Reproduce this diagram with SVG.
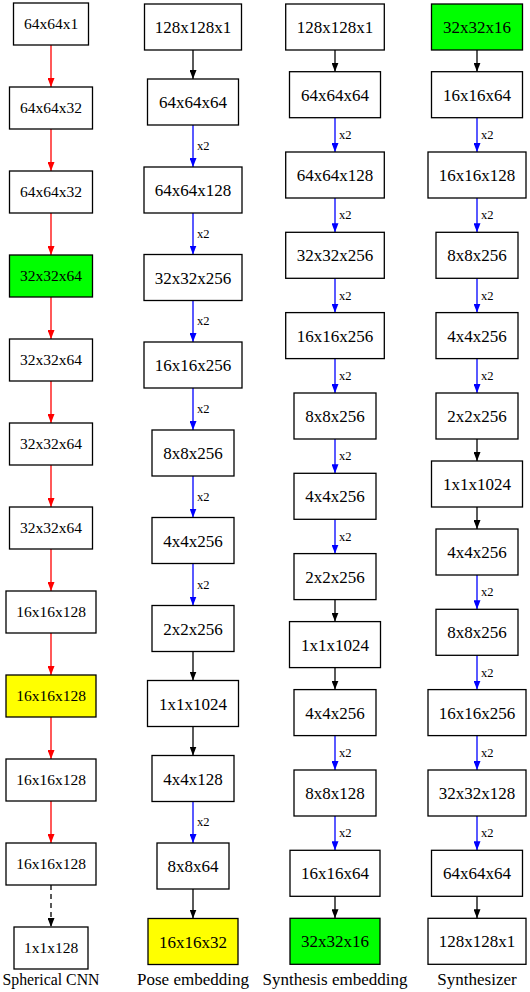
<svg xmlns="http://www.w3.org/2000/svg" width="530" height="992" viewBox="0 0 530 992">
<style>
rect{fill:#fff;stroke:#000;stroke-width:1.3}
rect.g{fill:#00ff00}
rect.y{fill:#ffff00}
text{font-family:"Liberation Serif","Times New Roman",serif;fill:#000;text-anchor:middle}
.c1 text{font-size:15.5px}
.n text{font-size:17px}
.lab{font-size:12.5px;text-anchor:start}
.cap{font-size:17.5px}
.c1 text.cap{font-size:15.8px}
line{stroke-width:1.3}
.r{stroke:#ff0000}
.b{stroke:#0000ff}
.k{stroke:#000}
.d{stroke:#000;stroke-dasharray:5,4}
</style>
<defs>
<marker id="ar" markerUnits="userSpaceOnUse" markerWidth="9" markerHeight="7" refX="9" refY="3.5" orient="auto"><path d="M0,0L9,3.5L0,7z" fill="#ff0000"/></marker>
<marker id="ab" markerUnits="userSpaceOnUse" markerWidth="9" markerHeight="7" refX="9" refY="3.5" orient="auto"><path d="M0,0L9,3.5L0,7z" fill="#0000ff"/></marker>
<marker id="ak" markerUnits="userSpaceOnUse" markerWidth="9" markerHeight="7" refX="9" refY="3.5" orient="auto"><path d="M0,0L9,3.5L0,7z" fill="#000"/></marker>
</defs>
<rect x="0" y="0" width="530" height="992" style="fill:#fff;stroke:none"/>

<g id="connectors">
<g id="c1-edges">
<line class="r" x1="51" y1="45" x2="51" y2="87" marker-end="url(#ar)"/>
<line class="r" x1="51" y1="129" x2="51" y2="171" marker-end="url(#ar)"/>
<line class="r" x1="51" y1="213" x2="51" y2="255" marker-end="url(#ar)"/>
<line class="r" x1="51" y1="297" x2="51" y2="339" marker-end="url(#ar)"/>
<line class="r" x1="51" y1="381" x2="51" y2="423" marker-end="url(#ar)"/>
<line class="r" x1="51" y1="465" x2="51" y2="507" marker-end="url(#ar)"/>
<line class="r" x1="51" y1="549" x2="51" y2="591" marker-end="url(#ar)"/>
<line class="r" x1="51" y1="633" x2="51" y2="675" marker-end="url(#ar)"/>
<line class="r" x1="51" y1="717" x2="51" y2="759" marker-end="url(#ar)"/>
<line class="r" x1="51" y1="801" x2="51" y2="843" marker-end="url(#ar)"/>
<line class="d" x1="51" y1="885" x2="51" y2="927" marker-end="url(#ak)"/>
</g>
<g id="c2-edges">
<line class="k" x1="193" y1="50" x2="193" y2="79" marker-end="url(#ak)"/>
<line class="b" x1="193" y1="125" x2="193" y2="167" marker-end="url(#ab)"/>
<text class="lab" x="197" y="150">x2</text>
<line class="b" x1="193" y1="213" x2="193" y2="254.5" marker-end="url(#ab)"/>
<text class="lab" x="197" y="238">x2</text>
<line class="b" x1="193" y1="300.5" x2="193" y2="342" marker-end="url(#ab)"/>
<text class="lab" x="197" y="325.3">x2</text>
<line class="b" x1="193" y1="388" x2="193" y2="430" marker-end="url(#ab)"/>
<text class="lab" x="197" y="413">x2</text>
<line class="b" x1="193" y1="476" x2="193" y2="517.5" marker-end="url(#ab)"/>
<text class="lab" x="197" y="501">x2</text>
<line class="b" x1="193" y1="563.5" x2="193" y2="605.5" marker-end="url(#ab)"/>
<text class="lab" x="197" y="588.6">x2</text>
<line class="k" x1="193" y1="651.5" x2="193" y2="680.5" marker-end="url(#ak)"/>
<line class="k" x1="193" y1="726.5" x2="193" y2="755.5" marker-end="url(#ak)"/>
<line class="b" x1="193" y1="801.5" x2="193" y2="843" marker-end="url(#ab)"/>
<text class="lab" x="197" y="826.3">x2</text>
<line class="k" x1="193" y1="889" x2="193" y2="918.5" marker-end="url(#ak)"/>
</g>
<g id="c3-edges">
<line class="k" x1="335" y1="50" x2="335" y2="71.7" marker-end="url(#ak)"/>
<line class="b" x1="335" y1="117.7" x2="335" y2="152" marker-end="url(#ab)"/>
<text class="lab" x="339" y="139">x2</text>
<line class="b" x1="335" y1="198" x2="335" y2="232.3" marker-end="url(#ab)"/>
<text class="lab" x="339" y="219.2">x2</text>
<line class="b" x1="335" y1="278.3" x2="335" y2="312.6" marker-end="url(#ab)"/>
<text class="lab" x="339" y="299.5">x2</text>
<line class="b" x1="335" y1="358.6" x2="335" y2="393" marker-end="url(#ab)"/>
<text class="lab" x="339" y="379.9">x2</text>
<line class="b" x1="335" y1="439" x2="335" y2="473.3" marker-end="url(#ab)"/>
<text class="lab" x="339" y="460.2">x2</text>
<line class="b" x1="335" y1="519.3" x2="335" y2="553.6" marker-end="url(#ab)"/>
<text class="lab" x="339" y="540.5">x2</text>
<line class="k" x1="335" y1="599.6" x2="335" y2="621.6" marker-end="url(#ak)"/>
<line class="k" x1="335" y1="667.6" x2="335" y2="689.6" marker-end="url(#ak)"/>
<line class="b" x1="335" y1="735.6" x2="335" y2="770" marker-end="url(#ab)"/>
<text class="lab" x="339" y="756.9">x2</text>
<line class="b" x1="335" y1="816" x2="335" y2="850.3" marker-end="url(#ab)"/>
<text class="lab" x="339" y="837.2">x2</text>
<line class="k" x1="335" y1="896.3" x2="335" y2="918.3" marker-end="url(#ak)"/>
</g>
<g id="c4-edges">
<line class="k" x1="477" y1="50" x2="477" y2="71.7" marker-end="url(#ak)"/>
<line class="b" x1="477" y1="117.7" x2="477" y2="152" marker-end="url(#ab)"/>
<text class="lab" x="481" y="139">x2</text>
<line class="b" x1="477" y1="198" x2="477" y2="232.3" marker-end="url(#ab)"/>
<text class="lab" x="481" y="219.2">x2</text>
<line class="b" x1="477" y1="278.3" x2="477" y2="312.6" marker-end="url(#ab)"/>
<text class="lab" x="481" y="299.5">x2</text>
<line class="b" x1="477" y1="358.6" x2="477" y2="393" marker-end="url(#ab)"/>
<text class="lab" x="481" y="379.9">x2</text>
<line class="k" x1="477" y1="439" x2="477" y2="461" marker-end="url(#ak)"/>
<line class="k" x1="477" y1="507" x2="477" y2="529" marker-end="url(#ak)"/>
<line class="b" x1="477" y1="575" x2="477" y2="609.3" marker-end="url(#ab)"/>
<text class="lab" x="481" y="596.2">x2</text>
<line class="b" x1="477" y1="655.3" x2="477" y2="689.6" marker-end="url(#ab)"/>
<text class="lab" x="481" y="676.5">x2</text>
<line class="b" x1="477" y1="735.6" x2="477" y2="770" marker-end="url(#ab)"/>
<text class="lab" x="481" y="756.9">x2</text>
<line class="b" x1="477" y1="816" x2="477" y2="850.3" marker-end="url(#ab)"/>
<text class="lab" x="481" y="837.2">x2</text>
<line class="k" x1="477" y1="896.3" x2="477" y2="918.3" marker-end="url(#ak)"/>
</g>
</g>

<g class="c1">
<g id="s1"><rect x="13.5" y="3" width="75" height="42"/><text x="51" y="29">64x64x1</text></g>
<g id="s2"><rect x="9.5" y="87" width="83" height="42"/><text x="51" y="113">64x64x32</text></g>
<g id="s3"><rect x="9.5" y="171" width="83" height="42"/><text x="51" y="197">64x64x32</text></g>
<g id="s4"><rect class="g" x="9.5" y="255" width="83" height="42"/><text x="51" y="281">32x32x64</text></g>
<g id="s5"><rect x="9.5" y="339" width="83" height="42"/><text x="51" y="365">32x32x64</text></g>
<g id="s6"><rect x="9.5" y="423" width="83" height="42"/><text x="51" y="449">32x32x64</text></g>
<g id="s7"><rect x="9.5" y="507" width="83" height="42"/><text x="51" y="533">32x32x64</text></g>
<g id="s8"><rect x="6" y="591" width="90" height="42"/><text x="51" y="617">16x16x128</text></g>
<g id="s9"><rect class="y" x="6" y="675" width="90" height="42"/><text x="51" y="701">16x16x128</text></g>
<g id="s10"><rect x="6" y="759" width="90" height="42"/><text x="51" y="785">16x16x128</text></g>
<g id="s11"><rect x="6" y="843" width="90" height="42"/><text x="51" y="869">16x16x128</text></g>
<g id="s12"><rect x="14" y="927" width="74" height="42"/><text x="51" y="953">1x1x128</text></g>
<text class="cap" x="51" y="985">Spherical CNN</text>
</g>

<g class="n">
<g id="p1"><rect x="144.5" y="4" width="97" height="46"/><text x="193" y="33">128x128x1</text></g>
<g id="p2"><rect x="147.5" y="79" width="91" height="46"/><text x="193" y="108">64x64x64</text></g>
<g id="p3"><rect x="144" y="167" width="98" height="46"/><text x="193" y="196">64x64x128</text></g>
<g id="p4"><rect x="144" y="254.5" width="98" height="46"/><text x="193" y="283.5">32x32x256</text></g>
<g id="p5"><rect x="144" y="342" width="98" height="46"/><text x="193" y="371">16x16x256</text></g>
<g id="p6"><rect x="152" y="430" width="82" height="46"/><text x="193" y="459">8x8x256</text></g>
<g id="p7"><rect x="152" y="517.5" width="82" height="46"/><text x="193" y="546.5">4x4x256</text></g>
<g id="p8"><rect x="152" y="605.5" width="82" height="46"/><text x="193" y="634.5">2x2x256</text></g>
<g id="p9"><rect x="147.5" y="680.5" width="91" height="46"/><text x="193" y="709.5">1x1x1024</text></g>
<g id="p10"><rect x="152" y="755.5" width="82" height="46"/><text x="193" y="784.5">4x4x128</text></g>
<g id="p11"><rect x="157" y="843" width="72" height="46"/><text x="193" y="872">8x8x64</text></g>
<g id="p12"><rect class="y" x="148" y="918.5" width="90" height="46"/><text x="193" y="947.5">16x16x32</text></g>
<text class="cap" x="193" y="985">Pose embedding</text>
</g>

<g class="n">
<g id="e1"><rect x="285.7" y="4" width="98.6" height="46"/><text x="335" y="33">128x128x1</text></g>
<g id="e2"><rect x="289.5" y="71.7" width="91" height="46"/><text x="335" y="100.7">64x64x64</text></g>
<g id="e3"><rect x="285.7" y="152" width="98.6" height="46"/><text x="335" y="181">64x64x128</text></g>
<g id="e4"><rect x="285.7" y="232.3" width="98.6" height="46"/><text x="335" y="261.3">32x32x256</text></g>
<g id="e5"><rect x="285.7" y="312.6" width="98.6" height="46"/><text x="335" y="341.6">16x16x256</text></g>
<g id="e6"><rect x="294" y="393" width="82" height="46"/><text x="335" y="422">8x8x256</text></g>
<g id="e7"><rect x="294" y="473.3" width="82" height="46"/><text x="335" y="502.3">4x4x256</text></g>
<g id="e8"><rect x="294" y="553.6" width="82" height="46"/><text x="335" y="582.6">2x2x256</text></g>
<g id="e9"><rect x="289.5" y="621.6" width="91" height="46"/><text x="335" y="650.6">1x1x1024</text></g>
<g id="e10"><rect x="294" y="689.6" width="82" height="46"/><text x="335" y="718.6">4x4x256</text></g>
<g id="e11"><rect x="294" y="770" width="82" height="46"/><text x="335" y="799">8x8x128</text></g>
<g id="e12"><rect x="290" y="850.3" width="90" height="46"/><text x="335" y="879.3">16x16x64</text></g>
<g id="e13"><rect class="g" x="290" y="918.3" width="90" height="46"/><text x="335" y="947.3">32x32x16</text></g>
<text class="cap" x="335" y="985">Synthesis embedding</text>
</g>

<g class="n">
<g id="z1"><rect class="g" x="431.5" y="4" width="91" height="46"/><text x="477" y="33">32x32x16</text></g>
<g id="z2"><rect x="431.5" y="71.7" width="91" height="46"/><text x="477" y="100.7">16x16x64</text></g>
<g id="z3"><rect x="428" y="152" width="98" height="46"/><text x="477" y="181">16x16x128</text></g>
<g id="z4"><rect x="436" y="232.3" width="82" height="46"/><text x="477" y="261.3">8x8x256</text></g>
<g id="z5"><rect x="436" y="312.6" width="82" height="46"/><text x="477" y="341.6">4x4x256</text></g>
<g id="z6"><rect x="436" y="393" width="82" height="46"/><text x="477" y="422">2x2x256</text></g>
<g id="z7"><rect x="431.5" y="461" width="91" height="46"/><text x="477" y="490">1x1x1024</text></g>
<g id="z8"><rect x="436" y="529" width="82" height="46"/><text x="477" y="558">4x4x256</text></g>
<g id="z9"><rect x="436" y="609.3" width="82" height="46"/><text x="477" y="638.3">8x8x256</text></g>
<g id="z10"><rect x="428" y="689.6" width="98" height="46"/><text x="477" y="718.6">16x16x256</text></g>
<g id="z11"><rect x="428" y="770" width="98" height="46"/><text x="477" y="799">32x32x128</text></g>
<g id="z12"><rect x="431.5" y="850.3" width="91" height="46"/><text x="477" y="879.3">64x64x64</text></g>
<g id="z13"><rect x="428" y="918.3" width="98" height="46"/><text x="477" y="947.3">128x128x1</text></g>
<text class="cap" x="477" y="985">Synthesizer</text>
</g>
</svg>
